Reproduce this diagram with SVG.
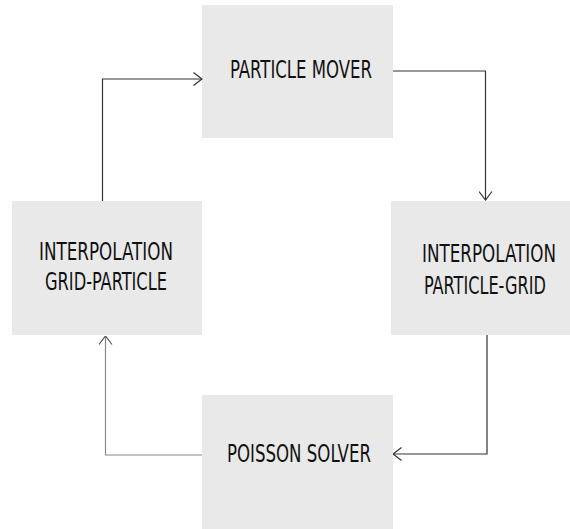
<svg xmlns="http://www.w3.org/2000/svg" width="570" height="529" viewBox="0 0 570 529">
<defs>
<style>
.box{fill:#e9e9e9;}
.lbl{font-family:"DejaVu Sans Condensed","Liberation Sans Narrow","Liberation Sans",sans-serif;font-size:24px;fill:#111;text-anchor:middle;}
.con{fill:none;stroke:#333;stroke-width:1.2;}
.con2{fill:none;stroke:#888;stroke-width:1.2;}
</style>
<marker id="ah" viewBox="0 0 10 14" refX="9.5" refY="7" markerWidth="10" markerHeight="14" markerUnits="userSpaceOnUse" orient="auto">
<path d="M1,0.5 L9.5,7 L1,13.5" fill="none" stroke="#333" stroke-width="1.2"/>
</marker>
<marker id="ah2" viewBox="0 0 10 14" refX="9.5" refY="7" markerWidth="10" markerHeight="14" markerUnits="userSpaceOnUse" orient="auto">
<path d="M1,0.5 L9.5,7 L1,13.5" fill="none" stroke="#555" stroke-width="1.2"/>
</marker>
</defs>
<rect width="570" height="529" fill="#ffffff"/>
<g id="mover">
<rect class="box" x="202" y="5" width="191" height="133"/>
<text class="lbl" x="301" y="78" textLength="142" lengthAdjust="spacingAndGlyphs">PARTICLE MOVER</text>
</g>
<g id="interp-gp">
<rect class="box" x="12" y="201" width="190" height="134"/>
<text class="lbl" x="106" y="260" textLength="134" lengthAdjust="spacingAndGlyphs">INTERPOLATION</text>
<text class="lbl" x="106" y="290" textLength="122" lengthAdjust="spacingAndGlyphs">GRID-PARTICLE</text>
</g>
<g id="interp-pg">
<rect class="box" x="391" y="201" width="179" height="134"/>
<text class="lbl" x="489" y="262" textLength="134" lengthAdjust="spacingAndGlyphs">INTERPOLATION</text>
<text class="lbl" x="485" y="294" textLength="122" lengthAdjust="spacingAndGlyphs">PARTICLE-GRID</text>
</g>
<g id="poisson">
<rect class="box" x="202" y="395" width="191" height="134"/>
<text class="lbl" x="299" y="462" textLength="144" lengthAdjust="spacingAndGlyphs">POISSON SOLVER</text>
</g>
<g id="connectors">
<path class="con" d="M393,71 H485.5 V200" marker-end="url(#ah)"/>
<path class="con" d="M487,335 V454 H393" marker-end="url(#ah)"/>
<path class="con2" d="M202,455 H105.5 V336" marker-end="url(#ah2)"/>
<path class="con" d="M102.5,201 V79 H202" marker-end="url(#ah)"/>
</g>
</svg>
